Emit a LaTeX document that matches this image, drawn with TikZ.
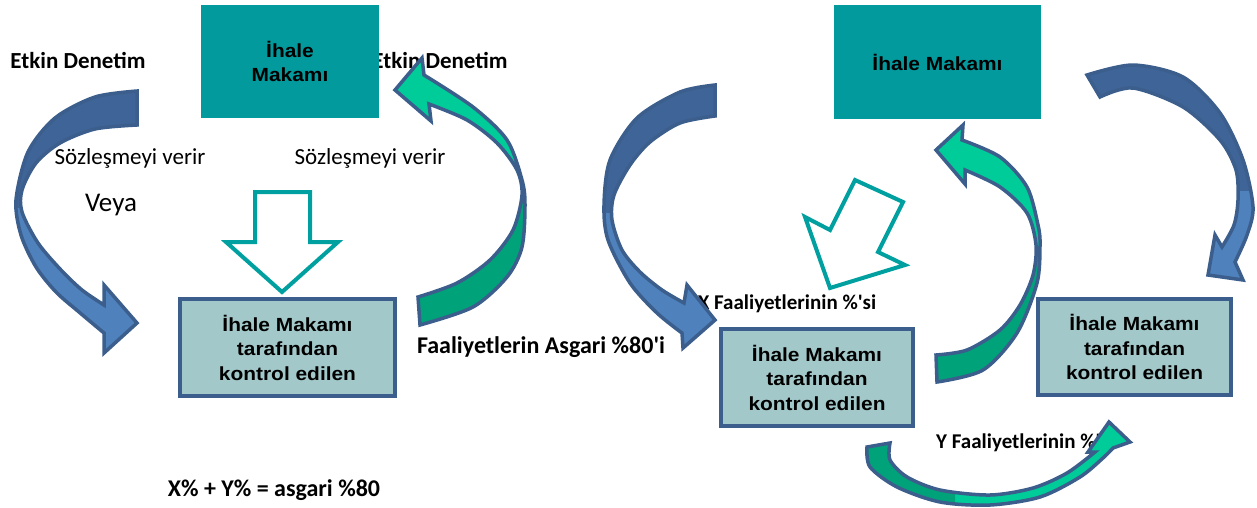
\documentclass[tikz,border=0pt]{standalone}
\usepackage{fontspec}
\newfontfamily\calf{Carlito}
\newfontfamily\arialf[FakeStretch=1.1]{Liberation Sans}
\definecolor{tealbox}{HTML}{029A9C}
\definecolor{boxfill}{HTML}{A3C8C9}
\definecolor{arrowedge}{HTML}{3B5E8C}
\definecolor{bluelt}{HTML}{4F81BD}
\definecolor{bluedk}{HTML}{3F6497}
\definecolor{greenlt}{HTML}{00CC99}
\definecolor{greendk}{HTML}{00A27A}
\definecolor{hollow}{HTML}{00A0A0}
\tikzset{
  lbl/.style={inner sep=0pt, font=\calf\fontsize{#1}{#1}\selectfont},
  blbl/.style={inner sep=0pt, font=\calf\bfseries\fontsize{#1}{#1}\selectfont},
  topbox/.style={fill=tealbox, inner sep=0pt, align=center, font=\arialf\bfseries\fontsize{19}{24.5}\selectfont},
  ctrlbox/.style={draw=arrowedge, line width=4pt, fill=boxfill, inner sep=0pt, align=center, font=\arialf\bfseries\fontsize{19}{24.5}\selectfont},
  hollowarrow/.style={draw=hollow, line width=4pt, fill=white, line join=miter},
  rim/.style={draw=arrowedge, line width=3.5pt}
}
\begin{document}
\begin{tikzpicture}[x=1pt,y=-1pt]
\useasboundingbox (0,0) rectangle (1257,507);
% texts lying under shapes
\node[blbl=23] (etk1) at (78,60) {Etkin Denetim};
\node[blbl=23] (etk2) at (440,60) {Etkin Denetim};
\node[lbl=23] (soz1) at (130,158) {Sözleşmeyi verir};
\node[lbl=23] (soz2) at (370,158) {Sözleşmeyi verir};
\node[lbl=27] (veya) at (111,205) {Veya};
\node[blbl=24] (faal) at (541,347) {Faaliyetlerin Asgari \%80'i};
\node[blbl=24] (xy) at (274,490) {X\% + Y\% = asgari \%80};
\node[blbl=21] (xf) at (787,304) {X Faaliyetlerinin \%'si};
\node[blbl=21, anchor=west] (yf) at (936,443) {Y Faaliyetlerinin \%'si};
% top boxes
\node[topbox, minimum width=178pt, minimum height=113pt] (t1) at (290,61.5) {İhale\\Makamı};
\node[topbox, minimum width=207pt, minimum height=114pt] (t2) at (937.5,62) {İhale Makamı};
% hollow arrows
\draw[hollowarrow] (255,192) -- (310,192) -- (310,242) -- (338,242) -- (282,292) -- (226,242) -- (255,242) -- cycle;
\draw[hollowarrow] (855,180) -- (903,202) -- (878,252) -- (905,265) -- (830,288) -- (805,217) -- (830,230) -- cycle;
% curved arrow outlines saved
\path[save path=\pA] plot[smooth] coordinates {(137,91) (95,97) (55,118) (28,152) (16,200) (21,235) (36,267) (56,292) (79,312) (104,333)} -- (104,353) -- (137,323) -- (104,285) -- plot[smooth] coordinates {(104,305) (82,290) (61,270) (38,243) (22,212) (22,190) (36,163) (60,143) (95,129) (137,125)} -- cycle;
\path[save path=\pB] plot[smooth] coordinates {(420,325) (473,307) (507,277) (522,247) (525,205) (522,180) (507,140) (473,107) (424,75)} -- (422,58) -- (395,90) -- (431,121) -- plot[smooth] coordinates {(429,104) (467,120) (497,143) (517,170) (522,195) (513,230) (490,260) (457,283) (418,297)} -- cycle;
\path[save path=\pC] plot[smooth] coordinates {(715,85) (680,92) (637,118) (610,160) (604,205) (608,240) (630,283) (657,313) (682,333)} -- (683,348) -- (715,320) -- (687,285) -- plot[smooth] coordinates {(684,303) (662,290) (640,272) (622,250) (612,220) (614,195) (630,165) (650,142) (680,123) (715,116)} -- cycle;
\path[save path=\pD] plot[smooth] coordinates {(937,382) (983,370) (1017,333) (1037,283) (1040,245) (1038,225) (1027,187) (1000,157) (962,140)} -- (963,125) -- (936,150) -- (965,184) -- plot[smooth] coordinates {(965,170) (1000,187) (1027,213) (1036,245) (1033,275) (1020,305) (1000,330) (967,350) (936,355)} -- cycle;
\path[save path=\pE] plot[smooth] coordinates {(1087,75) (1133,65) (1183,77) (1220,113) (1243,160) (1253,207) (1247,235) (1235,262)} -- (1243,280) -- (1208,275) -- (1215,235) -- plot[smooth] coordinates {(1222,247) (1234,225) (1238,200) (1236,170) (1220,140) (1183,107) (1133,88) (1100,97)} -- cycle;
\path[save path=\pF] plot[smooth] coordinates {(890,443) (890,460) (907,477) (940,490) (990,495) (1033,488) (1067,473) (1095,452)} -- (1088,452) -- (1109,422) -- (1130,442) -- plot[smooth] coordinates {(1113,448) (1103,458) (1080,477) (1040,497) (990,505) (940,502) (897,487) (870,467) (867,447)} -- cycle;
% fills and rims
\fill[bluelt, use path=\pA];
\begin{scope}\clip (0,0) rectangle (300,207); \fill[bluedk, use path=\pA];\end{scope}
\draw[rim, use path=\pA];
\fill[greendk, use path=\pB];
\begin{scope}\clip (300,0) rectangle (600,197); \fill[greenlt, use path=\pB];\end{scope}
\draw[rim, use path=\pB];
\fill[bluelt, use path=\pC];
\begin{scope}\clip (580,0) rectangle (800,212); \fill[bluedk, use path=\pC];\end{scope}
\draw[rim, use path=\pC];
\fill[greendk, use path=\pD];
\begin{scope}\clip (900,0) rectangle (1100,245); \fill[greenlt, use path=\pD];\end{scope}
\draw[rim, use path=\pD];
\fill[bluelt, use path=\pE];
\begin{scope}\clip (1050,0) rectangle (1257,190); \fill[bluedk, use path=\pE];\end{scope}
\draw[rim, use path=\pE];
\fill[greenlt, use path=\pF];
\begin{scope}\clip (850,400) rectangle (955,507); \fill[greendk, use path=\pF];\end{scope}
\draw[rim, use path=\pF];
% controlled boxes
\node[ctrlbox, minimum width=215pt, minimum height=97pt] (k1) at (287.5,347.5) {İhale Makamı\\tarafından\\kontrol edilen};
\node[ctrlbox, minimum width=192pt, minimum height=97pt] (k2) at (817,377.5) {İhale Makamı\\tarafından\\kontrol edilen};
\node[ctrlbox, minimum width=193pt, minimum height=96pt] (k3) at (1134.5,347) {İhale Makamı\\tarafından\\kontrol edilen};
\end{tikzpicture}
\end{document}
